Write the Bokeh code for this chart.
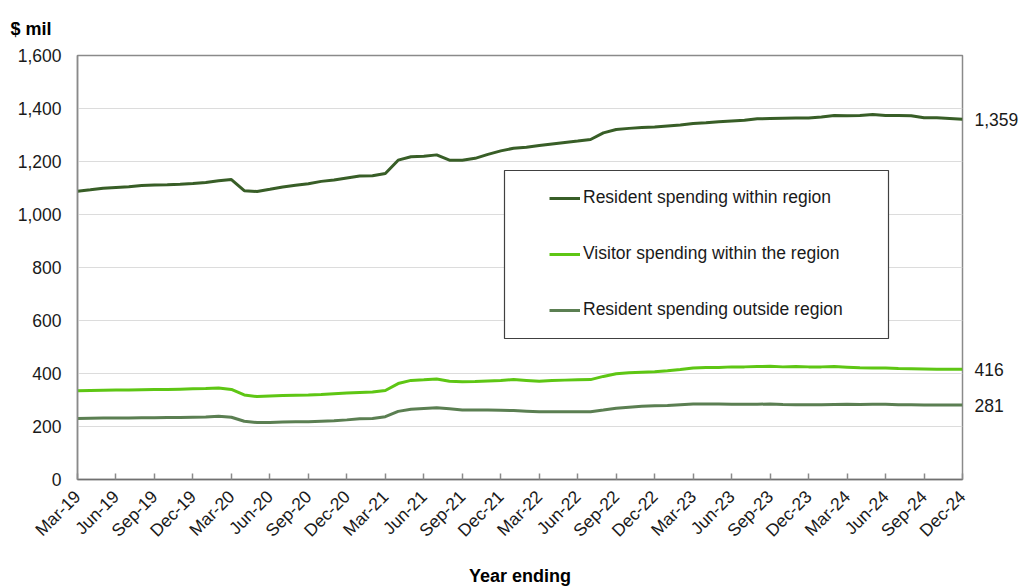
import math
from bokeh.plotting import figure
from bokeh.models import (Range1d, FixedTicker, NumeralTickFormatter, Legend, LegendItem,
                          BoxAnnotation, ColumnDataSource, LinearAxis)
from bokeh.embed import file_html
from bokeh.resources import INLINE

months = ["Mar-19", "Apr-19", "May-19", "Jun-19", "Jul-19", "Aug-19", "Sep-19", "Oct-19", "Nov-19", "Dec-19",
          "Jan-20", "Feb-20", "Mar-20", "Apr-20", "May-20", "Jun-20", "Jul-20", "Aug-20", "Sep-20", "Oct-20",
          "Nov-20", "Dec-20", "Jan-21", "Feb-21", "Mar-21", "Apr-21", "May-21", "Jun-21", "Jul-21", "Aug-21",
          "Sep-21", "Oct-21", "Nov-21", "Dec-21", "Jan-22", "Feb-22", "Mar-22", "Apr-22", "May-22", "Jun-22",
          "Jul-22", "Aug-22", "Sep-22", "Oct-22", "Nov-22", "Dec-22", "Jan-23", "Feb-23", "Mar-23", "Apr-23",
          "May-23", "Jun-23", "Jul-23", "Aug-23", "Sep-23", "Oct-23", "Nov-23", "Dec-23", "Jan-24", "Feb-24",
          "Mar-24", "Apr-24", "May-24", "Jun-24", "Jul-24", "Aug-24", "Sep-24", "Oct-24", "Nov-24", "Dec-24"]

resident_within = [1088, 1093, 1099, 1102, 1105, 1109, 1111, 1112, 1114, 1117,
                   1121, 1127, 1132, 1090, 1087, 1095, 1104, 1110, 1116, 1125,
                   1130, 1138, 1145, 1146, 1155, 1205, 1218, 1220, 1225, 1205,
                   1205, 1212, 1227, 1240, 1250, 1254, 1260, 1266, 1272, 1277,
                   1283, 1308, 1321, 1325, 1328, 1330, 1334, 1338, 1343, 1346,
                   1350, 1353, 1356, 1361, 1362, 1363, 1364, 1364, 1368, 1374,
                   1373, 1374, 1377, 1374, 1374, 1373, 1365, 1365, 1362, 1359]

visitor_within = [335, 336, 337, 338, 338, 339, 340, 340, 341, 342,
                  343, 345, 340, 319, 313, 315, 317, 318, 319, 321,
                  324, 326, 328, 330, 336, 362, 374, 376, 379, 371,
                  369, 370, 372, 374, 377, 374, 371, 374, 375, 376,
                  377, 389, 399, 403, 405, 407, 410, 415, 421, 423,
                  423, 425, 425, 426, 427, 425, 426, 425, 425, 426,
                  424, 422, 421, 421, 419, 418, 417, 416, 416, 416]

resident_outside = [230, 231, 232, 232, 232, 233, 233, 234, 234, 235,
                    236, 239, 235, 220, 215, 215, 217, 218, 218, 220,
                    222, 225, 229, 230, 237, 257, 265, 268, 271, 267,
                    262, 262, 262, 261, 260, 258, 256, 256, 256, 256,
                    256, 262, 269, 273, 276, 278, 279, 282, 285, 285,
                    285, 284, 284, 284, 285, 283, 282, 282, 282, 283,
                    284, 283, 284, 284, 282, 282, 281, 281, 281, 281]

series_names = ["Resident spending within region", "Visitor spending within the region",
                "Resident spending outside region"]
series_colors = ["#385E27", "#5EC614", "#5B7F52"]
end_labels = ["1,359", "416", "281"]

y_ticks = [0, 200, 400, 600, 800, 1000, 1200, 1400, 1600]

FONT = "Liberation Sans"
FS = "17.5px"

x = list(range(len(months)))

p = figure(frame_width=885, frame_height=424, output_backend="svg", toolbar_location=None,
           x_range=Range1d(0, len(months) - 1), y_range=Range1d(0, 1600),
           min_border_left=77, min_border_right=61, min_border_top=55, min_border_bottom=100,
           title="$ mil")
p.background_fill_color = "white"
p.border_fill_color = "white"
p.outline_line_color = "#8a8a8a"
p.outline_line_width = 1.5

# title "$ mil"
p.title.align = "left"
p.title.vertical_align = "top"
p.title.offset = -67
p.title.standoff = 30
p.title.text_font = FONT
p.title.text_font_size = "18px"
p.title.text_font_style = "bold"
p.title.text_color = "#000000"

# grid
p.xgrid.grid_line_color = None
p.ygrid.grid_line_color = "#dcdcdc"
p.ygrid.grid_line_width = 1
p.ygrid.ticker = FixedTicker(ticks=y_ticks)

# y axis
p.yaxis.ticker = FixedTicker(ticks=y_ticks)
p.yaxis.formatter = NumeralTickFormatter(format="0,0")
p.yaxis.major_tick_line_color = None
p.yaxis.minor_tick_line_color = None
p.yaxis.axis_line_color = "#8a8a8a"
p.yaxis.axis_line_width = 1.5
p.yaxis.major_label_text_font = FONT
p.yaxis.major_label_text_font_size = FS
p.yaxis.major_label_text_color = "#1a1a1a"
p.yaxis.major_label_standoff = 10

# x axis
p.xaxis.ticker = FixedTicker(ticks=list(range(0, len(months), 3)))
p.xaxis.major_label_overrides = {i: months[i] for i in range(0, len(months), 3)}
p.xaxis.major_label_orientation = math.pi / 4
p.xaxis.major_tick_in = 6
p.xaxis.major_tick_out = 0
p.xaxis.major_tick_line_color = "#8a8a8a"
p.xaxis.major_tick_line_width = 1.5
p.xaxis.minor_tick_line_color = None
p.xaxis.axis_line_color = "#707070"
p.xaxis.axis_line_width = 1.5
p.xaxis.major_label_text_font = FONT
p.xaxis.major_label_text_font_size = FS
p.xaxis.major_label_text_color = "#1a1a1a"
p.xaxis.major_label_standoff = 14
p.xaxis.axis_label = "Year ending"
p.xaxis.axis_label_text_font = FONT
p.xaxis.axis_label_text_font_size = "18px"
p.xaxis.axis_label_text_font_style = "bold"
p.xaxis.axis_label_text_color = "#000000"
p.xaxis.axis_label_standoff = 15

all_series = [resident_within, visitor_within, resident_outside]
renderers = []
for name, vals, col in zip(series_names, all_series, series_colors):
    src = ColumnDataSource(dict(x=x, y=vals))
    r = p.line("x", "y", source=src, line_color=col, line_width=3)
    renderers.append(r)

# end-value labels on the right side
last_vals = [s[-1] for s in all_series]
raxis = LinearAxis(ticker=FixedTicker(ticks=last_vals),
                   major_label_overrides={v: t for v, t in zip(last_vals, end_labels)},
                   major_tick_line_color=None, minor_tick_line_color=None,
                   axis_line_color=None, major_label_standoff=6,
                   major_label_text_font=FONT, major_label_text_font_size=FS,
                   major_label_text_color="#1a1a1a")
p.add_layout(raxis, "right")

# legend box
p.add_layout(BoxAnnotation(left=427, right=811, bottom=141, top=309,
                           left_units="screen", right_units="screen",
                           bottom_units="screen", top_units="screen",
                           fill_color="white", fill_alpha=1.0,
                           line_color="#404040", line_alpha=1.0, line_width=1.2))

legend = Legend(items=[LegendItem(label=n, renderers=[r]) for n, r in zip(series_names, renderers)],
                location=(472, 159), padding=0, margin=0, spacing=35,
                label_height=20, glyph_height=20, glyph_width=31, label_standoff=3,
                border_line_color=None, background_fill_alpha=0.0,
                label_text_font=FONT, label_text_font_size=FS, label_text_color="#1a1a1a")
p.add_layout(legend)

open("out.html", "w").write(file_html(p, INLINE))
